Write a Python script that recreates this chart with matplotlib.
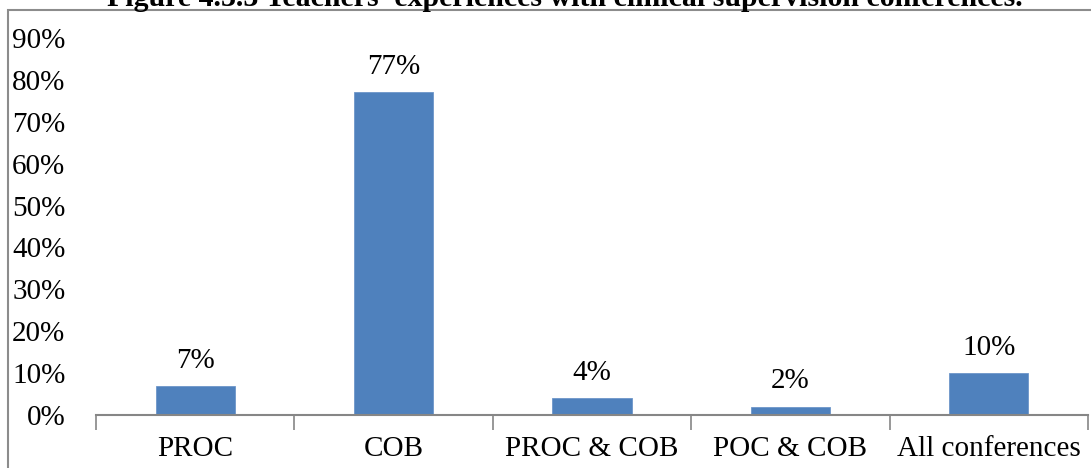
import matplotlib.pyplot as plt
from matplotlib.patches import Rectangle
import numpy as np

categories = ['PROC', 'COB', 'PROC & COB', 'POC & COB', 'All conferences']
values = [7, 77, 4, 2, 10]
yticks = [0, 10, 20, 30, 40, 50, 60, 70, 80, 90]
title = "Figure 4.3.3 Teachers' experiences with clinical supervision conferences."

plt.rcParams['font.family'] = ['Liberation Serif', 'DejaVu Serif']

fig = plt.figure(figsize=(10.91, 4.68), dpi=100)
W, H = 1091, 468

# outer chart frame
fig.patches.append(Rectangle((8 / W, -0.1), 1.2, 1 - 10 / H + 0.1,
                             transform=fig.transFigure, fill=False,
                             edgecolor='#8c8c8c', linewidth=1.5, zorder=0))

fig.text(0.518, 1 + 1 / H, title, ha='center', va='center',
         fontsize=21.5, fontweight='bold')

ax = fig.add_axes([96 / W, 1 - 415 / H, (1088 - 96) / W, (415 - 38) / H])
x = np.arange(len(categories))
ax.bar(x, values, width=0.4, color='#4F81BD', edgecolor='#6d96c9', linewidth=0.6)

for xi, v in zip(x, values):
    ax.text(xi, v + 6.0, f'{v}%', ha='center', va='center', fontsize=21)

ax.set_xlim(-0.5, len(categories) - 0.5)
ax.set_ylim(0, 90)
ax.set_yticks(yticks)
ax.set_yticklabels([f'{t}%' for t in yticks], fontsize=21)
ax.tick_params(axis='y', length=0, pad=22)

# category boundary tick marks
ax.set_xticks(np.arange(-0.5, len(categories)), minor=False)
ax.set_xticklabels([''] * (len(categories) + 1))
ax.tick_params(axis='x', which='major', length=11, width=1.2, color='#868686',
               direction='out')
ax.set_xticks(x, minor=True)
ax.set_xticklabels(categories, minor=True, fontsize=21)
ax.tick_params(axis='x', which='minor', length=0, pad=15)

for s in ['top', 'right', 'left']:
    ax.spines[s].set_visible(False)
ax.spines['bottom'].set_color('#868686')
ax.spines['bottom'].set_linewidth(1.5)

fig.savefig('out.png', dpi=100)
